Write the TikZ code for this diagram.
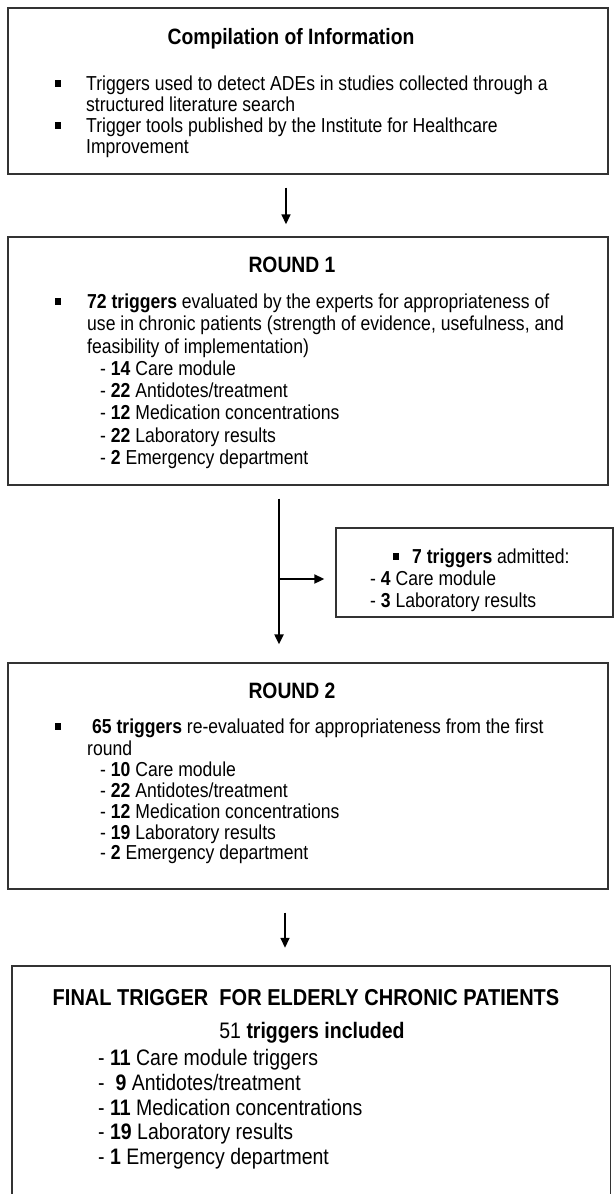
\documentclass[tikz,border=0pt]{standalone}
\usepackage{fontspec}
\setmainfont{Liberation Sans}[FakeStretch=0.87]
\usetikzlibrary{arrows.meta, positioning, calc}

\newcommand{\bodyfont}{\fontsize{20.2}{24}\selectfont}
\newcommand{\bigfont}{\fontsize{22.4}{27}\selectfont}

\begin{document}
\begin{tikzpicture}[x=1pt, y=-1pt,
    panel/.style={draw=black!80, line width=1.4pt, inner sep=0pt},
    txt/.style={font=\bodyfont, anchor=west, inner sep=0pt, text height=14.5pt, text depth=0pt},
    bigtxt/.style={font=\bigfont, anchor=west, inner sep=0pt, text height=16pt, text depth=0pt},
    ttl/.style={font=\fontsize{22.2}{27}\selectfont\bfseries, inner sep=0pt, text height=16pt, text depth=0pt},
    sq/.style={fill=black, minimum width=6pt, minimum height=7pt, inner sep=0pt},
    arr/.style={line width=1.6pt, -{Triangle[length=10pt, width=9pt]}}]
                \useasboundingbox (0,0) rectangle (614,1194);

                % Compilation of Information
                \node[panel, minimum width=600pt, minimum height=166pt] (info) at (308,91) {};
                \node[ttl] (infottl) at (291,36) {Compilation of Information};
                \node[sq] (infob1) at (58,83) {};
                \node[txt] (info1) at (86,83) {Triggers used to detect ADEs in studies collected through a};
                \node[txt] (info2) at (86,104) {structured literature search};
                \node[sq] (infob2) at (58,125) {};
                \node[txt] (info3) at (86,125) {Trigger tools published by the Institute for Healthcare};
                \node[txt] (info4) at (86,146) {Improvement};

                % Round 1
                \node[panel, minimum width=600pt, minimum height=248pt] (rone) at (308,361) {};
                \node[ttl] (ronettl) at (292,264) {ROUND 1};
                \node[sq] (roneb) at (58,301) {};
                \node[txt] (rone1) at (87,301) {\textbf{72 triggers} evaluated by the experts for appropriateness of};
                \node[txt] (rone2) at (87,323) {use in chronic patients (strength of evidence, usefulness, and};
                \node[txt] (rone3) at (87,346) {feasibility of implementation)};
                \node[txt] (rone4) at (100,368) {- \textbf{14} Care module};
                \node[txt] (rone5) at (100,390) {- \textbf{22} Antidotes/treatment};
                \node[txt] (rone6) at (100,412) {- \textbf{12} Medication concentrations};
                \node[txt] (rone7) at (100,435) {- \textbf{22} Laboratory results};
                \node[txt] (rone8) at (100,457) {- \textbf{2} Emergency department};

                % Admitted triggers
                \node[panel, minimum width=277pt, minimum height=89pt] (admit) at (474.5,572.5) {};
                \node[sq] (admitb) at (396,556) {};
                \node[txt] (admit1) at (412,556) {\textbf{7 triggers} admitted:};
                \node[txt] (admit2) at (370,578) {- \textbf{4} Care module};
                \node[txt] (admit3) at (370,600) {- \textbf{3} Laboratory results};

                % Round 2
                \node[panel, minimum width=600pt, minimum height=226pt] (rtwo) at (308,776) {};
                \node[ttl] (rtwottl) at (292,690) {ROUND 2};
                \node[sq] (rtwob) at (58,726) {};
                \node[txt] (rtwo1) at (92,726) {\textbf{65 triggers} re-evaluated for appropriateness from the first};
                \node[txt] (rtwo2) at (87,748) {round};
                \node[txt] (rtwo3) at (100,769) {- \textbf{10} Care module};
                \node[txt] (rtwo4) at (100,790) {- \textbf{22} Antidotes/treatment};
                \node[txt] (rtwo5) at (100,811) {- \textbf{12} Medication concentrations};
                \node[txt] (rtwo6) at (100,832) {- \textbf{19} Laboratory results};
                \node[txt] (rtwo7) at (100,852) {- \textbf{2} Emergency department};

                % Final trigger (box runs off the page)
                \node[minimum width=598pt, minimum height=228pt, inner sep=0pt] (fin) at (311,1080) {};
                \draw[draw=black!80, line width=1.4pt] (fin.south west) -- (fin.north west) -- (fin.north east) -- (fin.south east);
                \node[ttl, font=\fontsize{23}{27}\selectfont\bfseries] (finttl) at (306,997) {FINAL TRIGGER~ FOR ELDERLY CHRONIC PATIENTS};
                \node[ttl, font=\bigfont] (fincount) at (312,1030) {51 \textbf{triggers included}};
                \node[bigtxt] (fin1) at (98,1057) {- \textbf{11} Care module triggers};
                \node[bigtxt] (fin2) at (98,1082) {-~ \textbf{9} Antidotes/treatment};
                \node[bigtxt] (fin3) at (98,1107) {- \textbf{11} Medication concentrations};
                \node[bigtxt] (fin4) at (98,1131) {- \textbf{19} Laboratory results};
                \node[bigtxt] (fin5) at (98,1156) {- \textbf{1} Emergency department};

                % Arrows
                \draw[arr, shorten <=13pt, shorten >=12pt] ([xshift=-22pt]info.south) -- ([xshift=-22pt]rone.north);
                \coordinate (split) at (279,579);
                \draw[arr, line width=2.2pt, shorten <=13pt, shorten >=18pt] ([xshift=-29pt]rone.south) -- ([xshift=-29pt]rtwo.north);
                \draw[arr, line width=2pt, shorten >=11pt] (split) -- (split -| admit.west);
                \draw[arr, shorten <=23pt, shorten >=18pt] ([xshift=-23pt]rtwo.south) -- ([xshift=-23pt]rtwo.south |- fin.north);
\end{tikzpicture}
\end{document}
